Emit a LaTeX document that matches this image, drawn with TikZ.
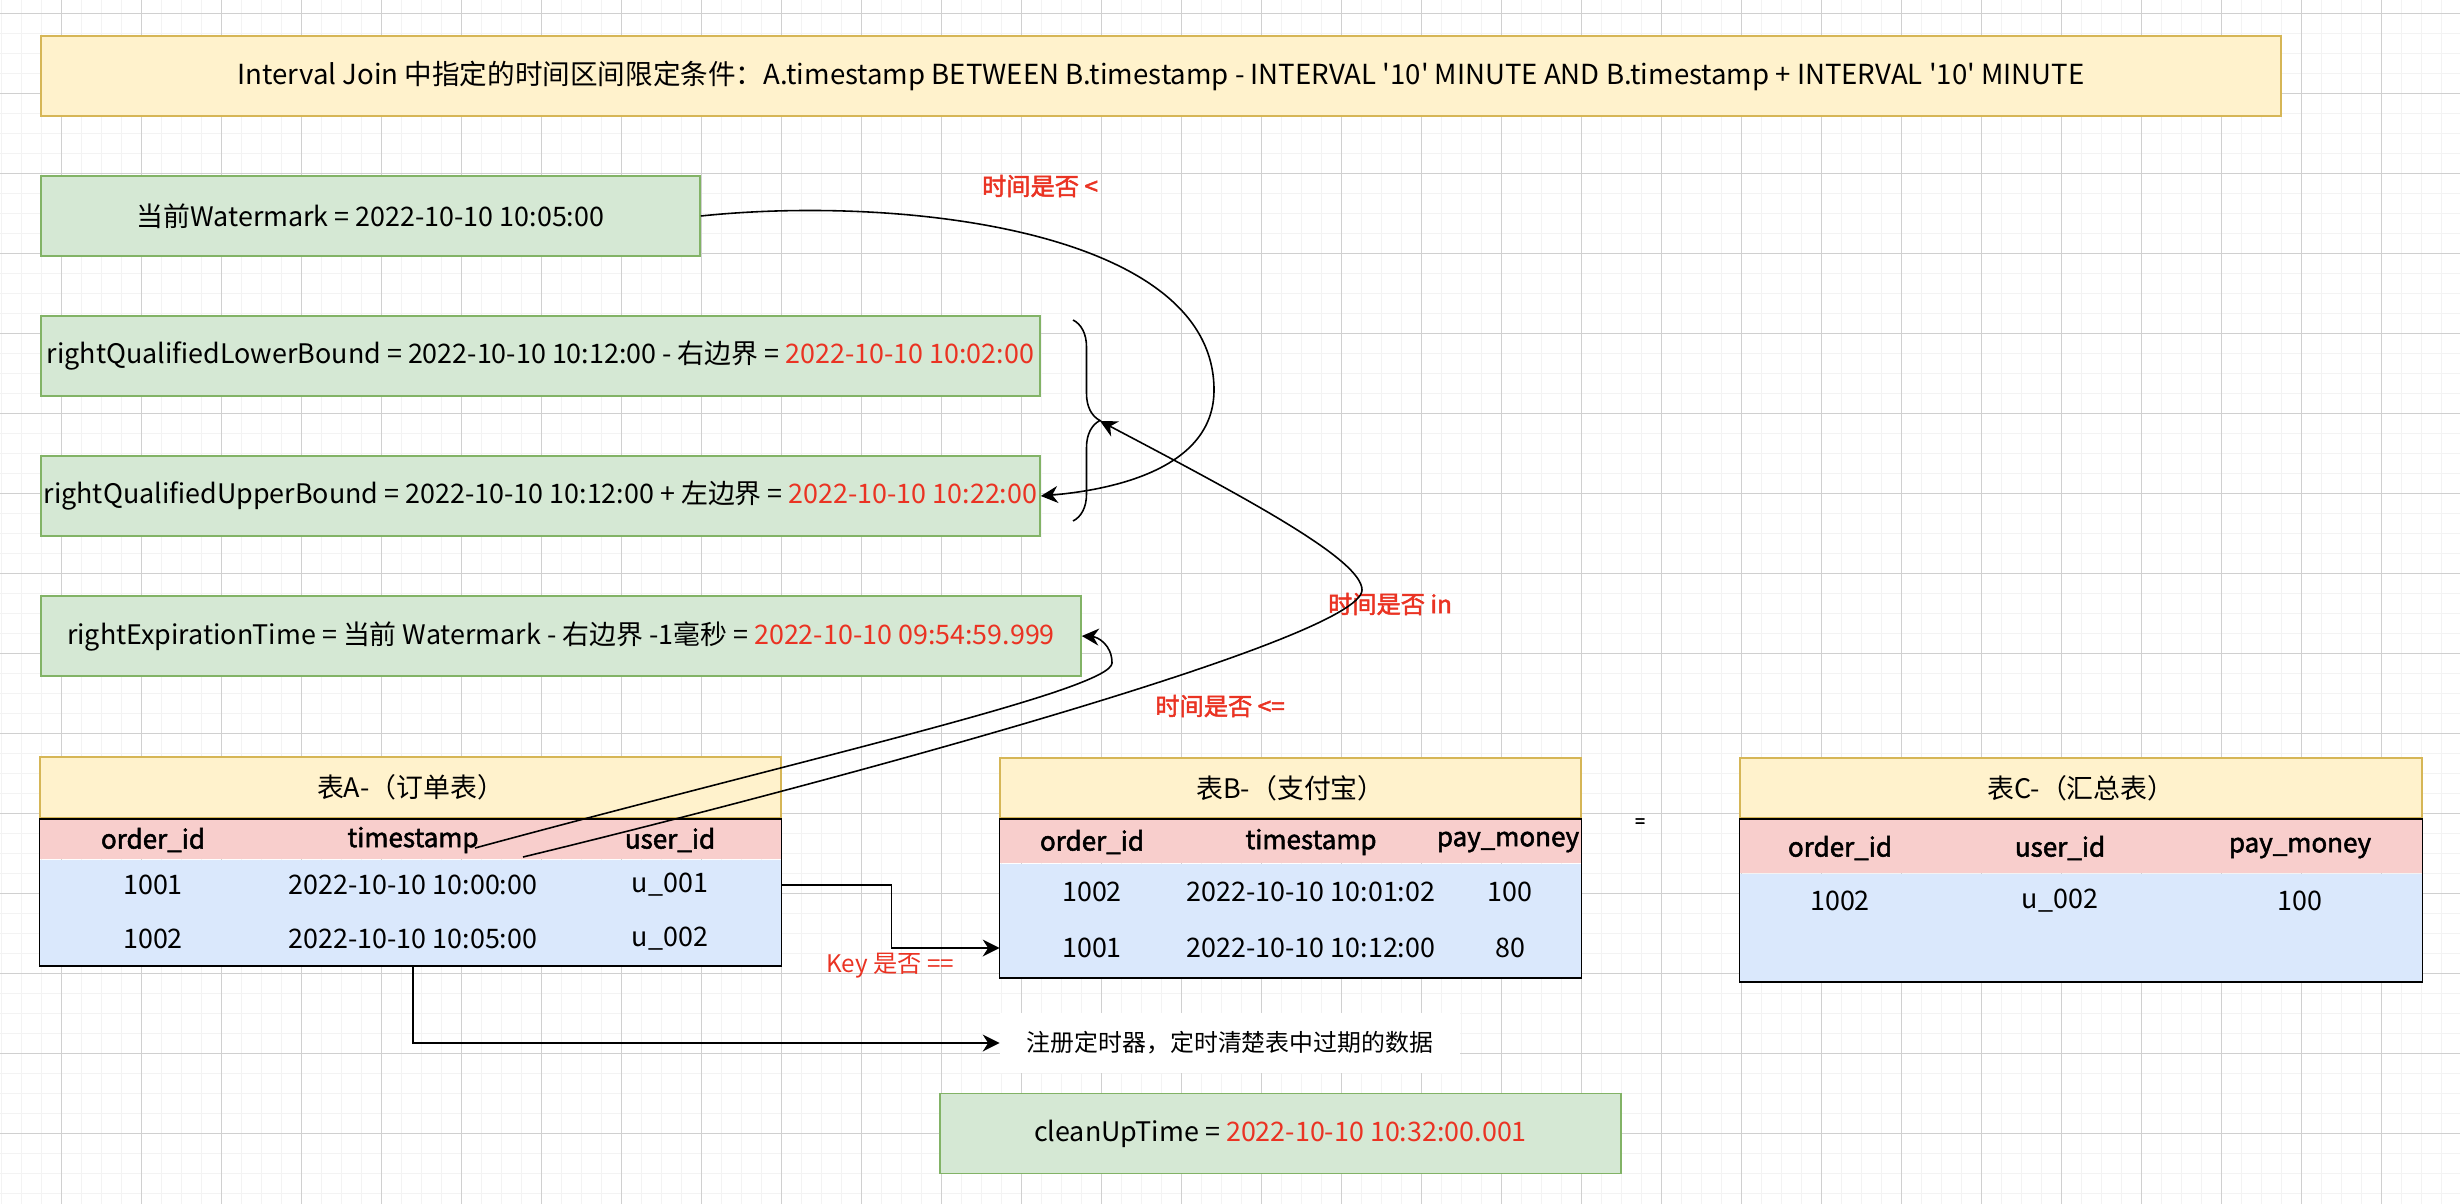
\documentclass[tikz,border=0pt]{standalone}
\usepackage{fontspec}
\newfontfamily\cjk{Noto Sans CJK SC}[AutoFakeBold=2]
\usetikzlibrary{positioning}
\usetikzlibrary{calc}
\usetikzlibrary{arrows.meta}
\usetikzlibrary{decorations.pathreplacing}
\definecolor{tred}{RGB}{234,51,35}
\definecolor{yfill}{HTML}{FFF2CC}
\definecolor{ydraw}{HTML}{D6B656}
\definecolor{gfill}{HTML}{D5E8D4}
\definecolor{gdraw}{HTML}{82B366}
\definecolor{pfill}{HTML}{F8CECC}
\definecolor{bfill}{HTML}{DAE8FC}
\definecolor{gridmaj}{RGB}{208,208,208}
\definecolor{gridmin}{RGB}{243,243,243}

\begin{document}
\begin{tikzpicture}[x=0.2mm, y=-0.2mm, node distance=0pt,
    every node/.style={font=\cjk\fontsize{15.3}{18}\selectfont, inner sep=0pt},
    ybox/.style={draw=ydraw, fill=yfill, line width=0.9pt},
    gbox/.style={draw=gdraw, fill=gfill, line width=0.9pt, minimum height=16mm},
    hrow/.style={fill=pfill},
    brow/.style={fill=bfill},
    hcell/.style={font=\cjk\fontsize{14.8}{18}\selectfont\bfseries},
    lbl/.style={text=tred, font=\cjk\fontsize{13.8}{16}\selectfont\bfseries},
    arr/.style={-{Stealth[length=3.4mm, width=3.4mm]}, line width=0.9pt}]
    \useasboundingbox (0,0) rectangle (2460,1204);
    \fill[white] (0,0) rectangle (2460,1204);
    \foreach \gx in {1,21,...,2460} \draw[gridmin, line width=0.5pt] (\gx,0) -- (\gx,1204);
    \foreach \gy in {13,33,...,1204} \draw[gridmin, line width=0.5pt] (0,\gy) -- (2460,\gy);
    \foreach \gx in {61,141,...,2460} \draw[gridmaj, line width=0.5pt] (\gx,0) -- (\gx,1204);
    \foreach \gy in {13,93,...,1204} \draw[gridmaj, line width=0.5pt] (0,\gy) -- (2460,\gy);

    \node (title) at (1161,76) [ybox, minimum width=448mm, minimum height=16mm, font=\cjk\fontsize{15.7}{18}\selectfont] {Interval Join 中指定的时间区间限定条件：A.timestamp BETWEEN B.timestamp - INTERVAL '10' MINUTE AND B.timestamp + INTERVAL '10' MINUTE};

    \node (wm) at (370.5,216) [gbox, minimum width=131.8mm] {当前Watermark = 2022-10-10 10:05:00};
    \node (lower) at (540.5,356) [gbox, minimum width=199.8mm] {rightQualifiedLowerBound = 2022-10-10 10:12:00 - 右边界 = \textcolor{tred}{2022-10-10 10:02:00}};
    \node (upper) at (540.5,496) [gbox, minimum width=199.8mm] {rightQualifiedUpperBound = 2022-10-10 10:12:00 + 左边界 = \textcolor{tred}{2022-10-10 10:22:00}};
    \node (expire) at (561,636) [gbox, minimum width=208mm] {rightExpirationTime = 当前 Watermark - 右边界 -1毫秒 = \textcolor{tred}{2022-10-10 09:54:59.999}};

    \draw[line width=0.9pt, decorate, decoration={brace, amplitude=5.4mm}] (1073,320) -- (1073,521);
    \coordinate (bt) at (1100,421);

    % table A
    \node (atitle) at (410.5,787.5) [ybox, minimum width=148.2mm, minimum height=12.2mm] {表A-（订单表）};
    \node (ahead) [hrow, below=of atitle, minimum width=148.2mm, minimum height=8mm] {};
    \node (abody) [brow, below=of ahead, minimum width=148.2mm, minimum height=21.2mm] {};
    \draw[line width=0.9pt] (ahead.north west) rectangle (abody.south east);
    \node (aoid) at (153,840) [hcell] {order\_id};
    \node (ats) at (413,840) [hcell] {timestamp};
    \node (auid) at (670,840) [hcell] {user\_id};
    \node (a1o) at (153,885) {1001};
    \node (a1t) at (413,885) {2022-10-10 10:00:00};
    \node (a1u) at (670,885) {u\_001};
    \node (a2o) at (153,939) {1002};
    \node (a2t) at (413,939) {2022-10-10 10:05:00};
    \node (a2u) at (670,939) {u\_002};

    % table B
    \node (btitle) at (1290.5,788) [ybox, minimum width=116.2mm, minimum height=12mm] {表B-（支付宝）};
    \node (bhead) [hrow, below=of btitle, minimum width=116.2mm, minimum height=8.8mm] {};
    \node (bbody) [brow, below=of bhead, minimum width=116.2mm, minimum height=22.8mm] {};
    \draw[line width=0.9pt] (bhead.north west) rectangle (bbody.south east);
    \node (boid) at (1092,842) [hcell] {order\_id};
    \node (bts) at (1311,842) [hcell] {timestamp};
    \node (bpm) at (1508,842) [hcell] {pay\_money};
    \node (b1o) at (1092,892) {1002};
    \node (b1t) at (1311,892) {2022-10-10 10:01:02};
    \node (b1m) at (1510,892) {100};
    \node (b2o) at (1092,948) {1001};
    \node (b2t) at (1311,948) {2022-10-10 10:12:00};
    \node (b2m) at (1510,948) {80};

    \node (eq) at (1640,823) [font=\cjk\fontsize{10}{12}\selectfont\bfseries] {=};

    % table C
    \node (ctitle) at (2081,788) [ybox, minimum width=136.4mm, minimum height=12mm] {表C-（汇总表）};
    \node (chead) [hrow, below=of ctitle, minimum width=136.4mm, minimum height=10.8mm] {};
    \node (cbody) [brow, below=of chead, minimum width=136.4mm, minimum height=21.6mm] {};
    \draw[line width=0.9pt] (chead.north west) rectangle (cbody.south east);
    \node (coid) at (1840,848) [hcell] {order\_id};
    \node (cuid) at (2060,848) [hcell] {user\_id};
    \node (cpm) at (2300,848) [hcell] {pay\_money};
    \node (c1o) at (1840,901) {1002};
    \node (c1u) at (2060,901) {u\_002};
    \node (c1m) at (2300,901) {100};

    \node (timer) at (1230,1043) [fill=white, minimum width=92mm, minimum height=12mm, font=\cjk\fontsize{13.6}{16}\selectfont] {注册定时器，定时清楚表中过期的数据};
    \node (clean) at (1280.5,1133.5) [gbox, minimum width=136.2mm] {cleanUpTime = \textcolor{tred}{2022-10-10 10:32:00.001}};

    \node (llt) at (1040,186) [lbl] {时间是否 <};
    \node (lin) at (1390,604) [lbl] {时间是否 in};
    \node (lle) at (1220,706) [lbl] {时间是否 <=};
    \node (lkey) at (890,966) [text=tred, font=\cjk\fontsize{13.8}{16}\selectfont] {Key 是否 ==};

    \coordinate (ts1) at (475,848);
    \coordinate (ts2) at (523,857);
    \draw[arr] (wm.east) .. controls (900,195) and (1214,230) .. (1214,390) .. controls (1214,470) and (1110,490) .. (upper.east);
    \draw[arr] (ts2) .. controls (800,790) and (1362,640) .. (1362,590) .. controls (1362,560) and (1250,500) .. (bt);
    \draw[arr] (ts1) .. controls (800,760) and (1112,690) .. (1112,663) .. controls (1112,645) and (1098,637) .. (expire.east);
    \draw[arr] (abody.east |- a1u) -- ++(110,0) |- (bbody.west |- b2o);
    \draw[arr] (ats |- abody.south) |- (timer.west);
\end{tikzpicture}
\end{document}
